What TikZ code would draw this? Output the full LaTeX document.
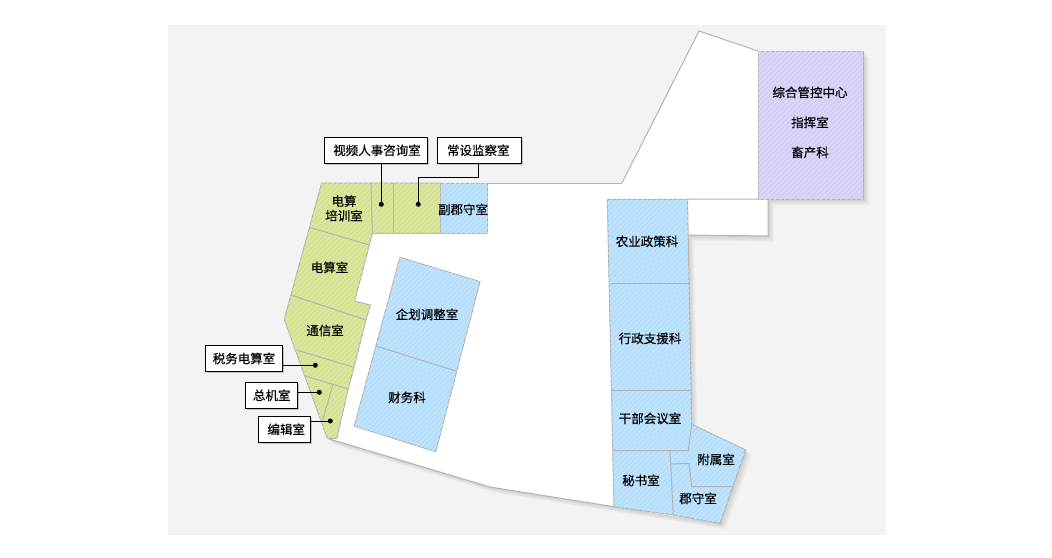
\documentclass[tikz,border=0pt]{standalone}
\usepackage{fontspec}
\setmainfont[FakeBold=0.35]{Noto Sans CJK SC}
\usetikzlibrary{patterns.meta}
\definecolor{sitegray}{HTML}{F3F3F3}
\definecolor{edgegray}{HTML}{B4B4B4}
\definecolor{roomgreen}{HTML}{D3E38F}
\definecolor{roomblue}{HTML}{B4DEFC}
\definecolor{roompurple}{HTML}{D4CEF6}
\tikzset{
	room/.style={draw=edgegray, line width=1pt, line join=round},
	wall/.style={draw=edgegray, line width=1pt},
	hatchgreen/.style={room, fill=roomgreen, postaction={pattern={Lines[angle=45,distance=3.6pt,line width=.8pt]}, pattern color=white!30!roomgreen}},
	hatchblue/.style={room, fill=roomblue, postaction={pattern={Lines[angle=45,distance=3.6pt,line width=.8pt]}, pattern color=white!30!roomblue}},
	hatchpurple/.style={room, fill=roompurple, postaction={pattern={Lines[angle=45,distance=3.6pt,line width=.8pt]}, pattern color=white!30!roompurple}},
	roomlabel/.style={inner sep=0pt, yshift=.6pt, font=\fontsize{12.5}{14.5}\selectfont, align=center},
	callout/.style={draw=black, line width=.8pt, fill=white, inner sep=0pt, font=\fontsize{12.5}{14.5}\selectfont},
	calldot/.style={circle, fill=black, inner sep=0pt, minimum size=5pt},
	callline/.style={draw=black, line width=.8pt}
}
\newcommand{\buildingpath}{(321.7,183) -- (622,183) -- (699,31) -- (758,51) -- (863,51) -- (863,199) -- (768,199) -- (768,236) -- (688,235) -- (691.7,424.3) -- (745.7,450) -- (720,523.3) -- (614,506.7) -- (490,487) -- (327.3,438.3) -- (284.3,319.3) -- cycle}
\begin{document}
\begin{tikzpicture}[x=1pt,y=-1pt]
	\useasboundingbox (0,0) rectangle (1052,557);
	\fill[sitegray] (168,25) rectangle (886,535);
	% shadow
	\foreach \s in {1,...,6}{
			\fill[black, opacity=.025, shift={(\s,\s)}] \buildingpath;
		}
	\fill[white] \buildingpath;
	\draw[wall] (622,183) -- (699,31) -- (758,51);
	\draw[wall] (488,183) -- (622,183);
	\draw[wall] (688,199) -- (768,199) -- (768,236) -- (688,235);
	\draw[wall] (614,506.7) -- (490,487) -- (327.3,438.3);

	% green rooms
	\path[hatchgreen] (321.7,183) -- (440.7,183) -- (440.7,233.3) -- (372.3,233.3) -- (369.3,245) -- (354.7,301) -- (370.3,305) -- (366,320) -- (354,367.3) -- (348.3,389) -- (336.7,438.3) -- (327.3,438.3) -- (284.3,319.3) -- cycle;
	\draw[wall] (371,183) -- (372.3,233.3);
	\draw[wall] (393.3,183) -- (393.3,233.3);
	\draw[wall] (309.3,227.3) -- (369.3,245);
	\draw[wall] (291,295) -- (366,320);
	\draw[wall] (296.7,350) -- (354,367.3);
	\draw[wall] (304.3,375.7) -- (348.3,389);
	\draw[wall] (332.7,385) -- (322.7,420);

	% blue rooms
	\path[hatchblue] (440.7,183) rectangle (487.7,233.3);
	\path[hatchblue] (400,257.3) -- (480,281.7) -- (435.7,451.7) -- (354.3,426) -- cycle;
	\draw[wall] (376,346) -- (455.7,371);
	\path[hatchblue] (607.3,199.3) -- (687.5,199.3) -- (691.7,424.3) -- (745.7,450) -- (720,523.3) -- (673.3,515) -- (614,506.7) -- cycle;
	\draw[wall] (610,283) -- (689.5,283);
	\draw[wall] (611.7,390) -- (690.5,390);
	\draw[wall] (613.3,450.7) -- (688.3,450.7) -- (691.7,424.3);
	\draw[wall] (670,450.7) -- (673.3,515);
	\draw[wall] (671.7,464) -- (689,463.3) -- (691.7,486.7) -- (732.7,486.7);

	% purple room
	\path[hatchpurple] (758,51) rectangle (863,199);

	\node[roomlabel] (Peixun) at (344,209) {电算\\培训室};
	\node[roomlabel] (Diansuan) at (329.5,268) {电算室};
	\node[roomlabel] (Tongxin) at (325,331) {通信室};
	\node[roomlabel] (Fujun) at (463,210) {副郡守室};
	\node[roomlabel] (Qihua) at (427,315) {企划调整室};
	\node[roomlabel] (Caiwu) at (407,398) {财务科};
	\node[roomlabel] (Nongye) at (647,242) {农业政策科};
	\node[roomlabel] (Xingzheng) at (650,339) {行政支援科};
	\node[roomlabel] (Ganbu) at (650,419) {干部会议室};
	\node[roomlabel] (Mishu) at (641,481) {秘书室};
	\node[roomlabel] (Fushu) at (716,460) {附属室};
	\node[roomlabel] (Junshou) at (698,499) {郡守室};
	\node[roomlabel] (Zonghe) at (810,93) {综合管控中心};
	\node[roomlabel] (Zhihui) at (810,123) {指挥室};
	\node[roomlabel] (Xuchan) at (810,153) {畜产科};

	\node[calldot] (dotVideo) at (381.3,204.3) {};
	\node[calldot] (dotJiancha) at (418.3,204.3) {};
	\node[calldot] (dotShuiwu) at (315.3,365.3) {};
	\node[calldot] (dotZongji) at (319.3,392.3) {};
	\node[calldot] (dotBianji) at (330.3,421) {};

	% callouts
	\foreach \name/\cx/\cy/\w/\nudge/\txt in {
			boxVideo/376/150.3/103.4/2/视频人事咨询室,
			boxJiancha/479.3/150.3/83.6/-2/常设监察室,
			boxShuiwu/244/358.5/76.6/0/税务电算室,
			boxZongji/271.7/395.3/52/0/总机室,
			boxBianji/284.3/429.3/52/4/编辑室}{
			\fill[black, opacity=.2] (\cx+1.5-\w/2,\cy-11.5) rectangle (\cx+\w/2+1.5,\cy+14.5);
			\node[callout, minimum width=\w pt, minimum height=26pt] (\name) at (\cx,\cy) {\hspace*{\nudge pt}\raisebox{-.2pt}{\txt}};
		}
	\draw[callline] (boxVideo.south -| dotVideo) -- (dotVideo);
	\draw[callline] (boxJiancha.south) ++(-1,0) |- ([yshift=0pt]dotJiancha |- 0,177.3) -- (dotJiancha);
	\draw[callline] (boxShuiwu.east |- dotShuiwu) -- (dotShuiwu);
	\draw[callline] (boxZongji.east |- dotZongji) -- (dotZongji);
	\draw[callline] (boxBianji.east |- dotBianji) -- (dotBianji);
\end{tikzpicture}
\end{document}
